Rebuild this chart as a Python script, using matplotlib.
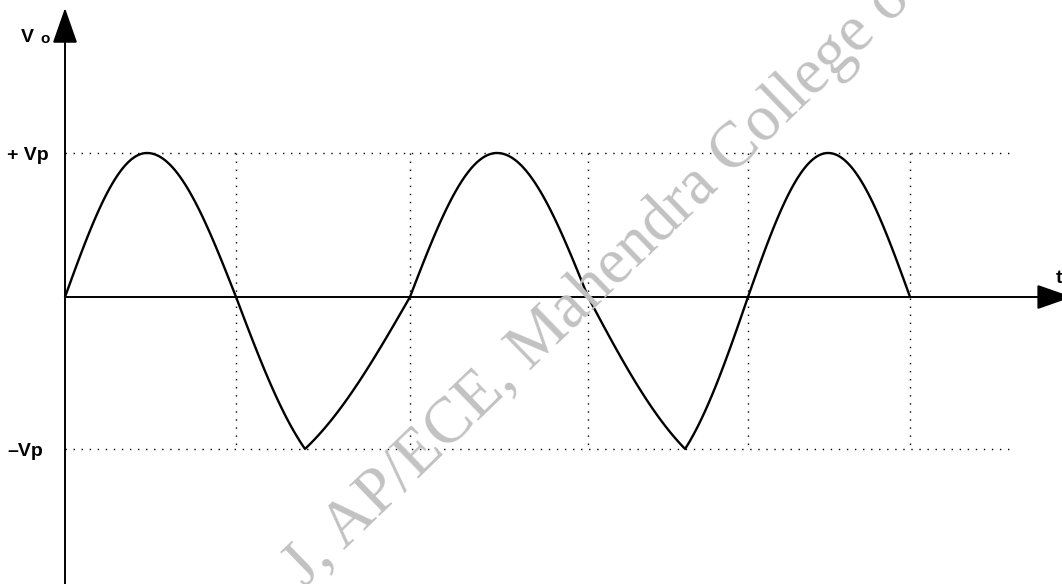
import matplotlib
matplotlib.use('Agg')
import matplotlib.pyplot as plt
import numpy as np

# waveform key points (time in half-cycles, voltage in units of Vp)
zero_t = [0.0, 1.012, 2.041, 3.095, 4.041, 5.0]
peak_t = [0.485, 1.420, 2.556, 3.669, 4.515]
peak_v = [1.0, -1.055, 1.0, -1.055, 1.0]

vp_levels = [1.0, -1.055]
vp_labels = ['+ Vp', '\u2013Vp']
grid_t = zero_t[1:]
grid_end = 5.6

watermark = 'J, AP/ECE, Mahendra College of'


def half_wave(t0, tp, t1, v, sharp):
    """Draw one lobe: rise from t0 to extreme at tp, fall back at t1"""
    def shape(u):
        s = np.sin(u * np.pi / 2)
        return (1 - sharp) * s + sharp * u
    u = np.linspace(0, 1, 60)
    ta = t0 + (tp - t0) * u
    tb = tp + (t1 - tp) * u
    return np.concatenate([ta, tb[1:]]), np.concatenate([v * shape(u), v * shape(1 - u)[1:]])


fig = plt.figure(figsize=(10.62, 5.84), dpi=100)
ax = fig.add_axes([0, 0, 1, 1])
ax.set_xlim(-0.3846, 5.899)
ax.set_ylim(-1.993, 2.0625)
ax.axis('off')

# watermark behind everything (runs off the page like in the scan)
fig.text(305 / 1062, 1 - 588 / 584, watermark, rotation=44, rotation_mode='anchor',
         ha='left', va='baseline', fontsize=47, family='Liberation Serif',
         color='#c2c2c2', zorder=0)

# dotted reference lines
for lv in vp_levels:
    ax.plot([0, grid_end], [lv, lv], color='k', lw=1.0, ls=(0, (1, 4.8)), zorder=1)
for gt in grid_t:
    ax.plot([gt, gt], vp_levels, color='k', lw=1.0, ls=(0, (1, 4.8)), zorder=1)

# waveform
for i in range(len(peak_t)):
    sharp = 0.65 if peak_v[i] < 0 else 0.0
    t, v = half_wave(zero_t[i], peak_t[i], zero_t[i + 1], peak_v[i], sharp)
    ax.plot(t, v, color='k', lw=1.7, solid_capstyle='round', zorder=3)

# axes with arrow heads
arrow = dict(arrowstyle='-|>,head_length=0.6,head_width=0.21', mutation_scale=37,
             lw=1.4, color='k', shrinkA=0, shrinkB=0)
ax.annotate('', xy=(0, 2.007), xytext=(0, -1.993), arrowprops=arrow, annotation_clip=False)
ax.annotate('', xy=(5.959, 0), xytext=(0, 0), arrowprops=arrow, annotation_clip=False)

# labels
lab = dict(family='Liberation Sans', fontweight='bold', color='k')
for lv, txt in zip(vp_levels, vp_labels):
    ax.annotate(txt, xy=(0, lv), xytext=(-58, -7), textcoords='offset pixels',
                ha='left', va='baseline', fontsize=14, **lab)
ax.annotate('V', xy=(21, 584 - 42), xycoords='figure pixels', ha='left', va='baseline',
            fontsize=14, **lab)
ax.annotate('o', xy=(40, 584 - 43), xycoords='figure pixels', ha='left', va='baseline',
            fontsize=11, **lab)
ax.annotate('t', xy=(1056, 584 - 283), xycoords='figure pixels', ha='left', va='baseline',
            fontsize=14, **lab)

plt.savefig('out.png', dpi=100)
